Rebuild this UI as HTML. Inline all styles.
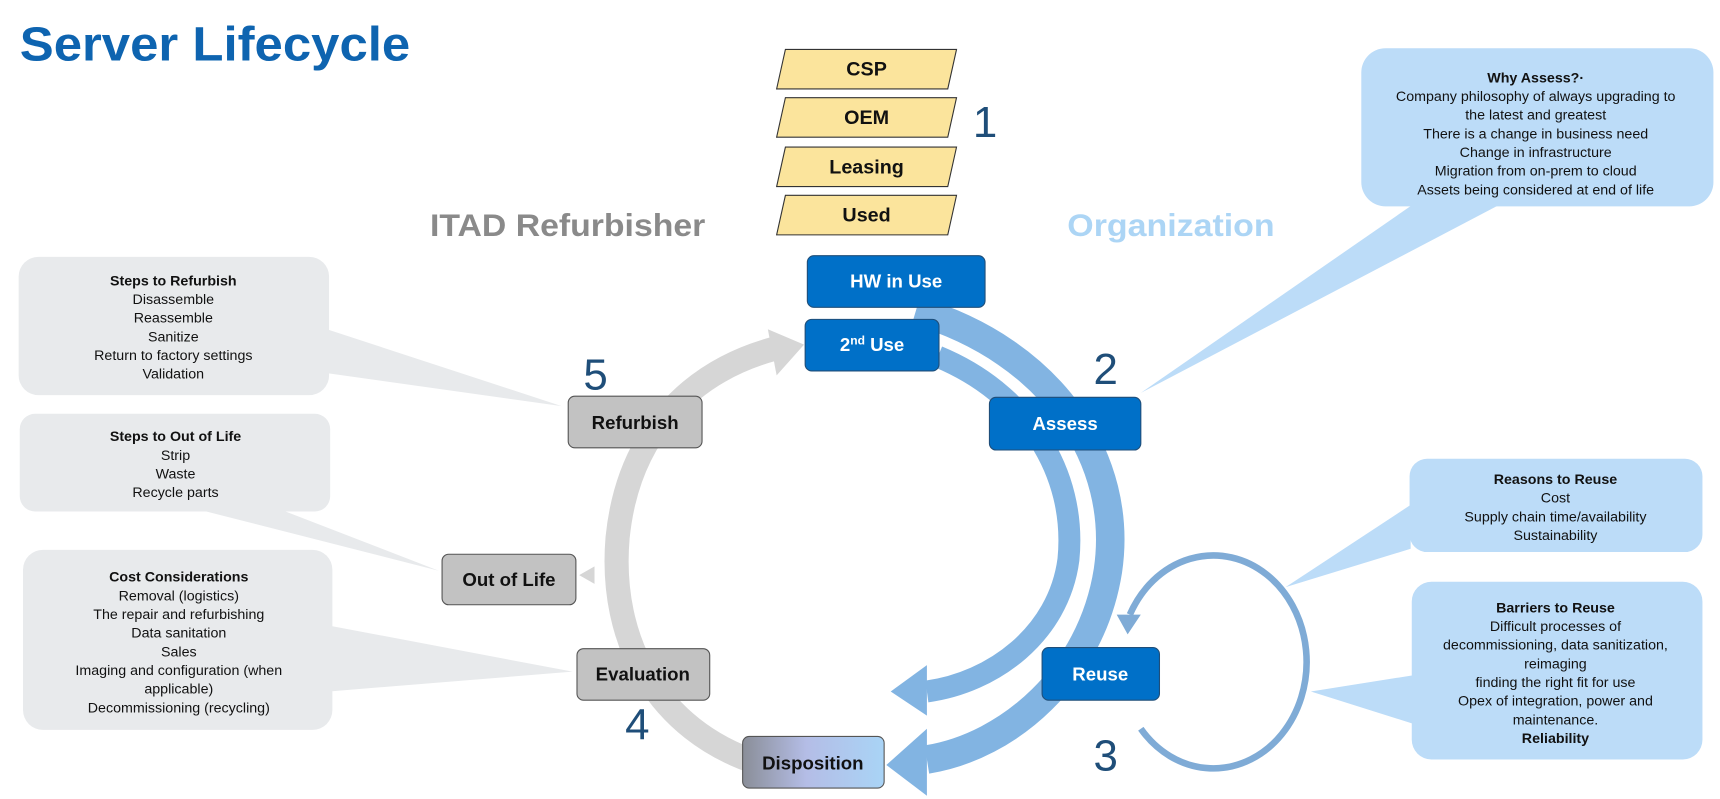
<!DOCTYPE html>
<html><head><meta charset="utf-8"><style>
html,body{margin:0;padding:0;background:#fff;}
svg{display:block;}
text{font-family:"Liberation Sans",sans-serif;}
</style></head><body>
<svg width="1720" height="799" viewBox="0 0 1568 728" preserveAspectRatio="none" xmlns="http://www.w3.org/2000/svg">
<defs>
<linearGradient id="dg" x1="0" x2="1" y1="0" y2="0"><stop offset="0" stop-color="#8a8e98"/><stop offset="0.45" stop-color="#b4bde6"/><stop offset="1" stop-color="#a9d4f6"/></linearGradient>
</defs>
<text x="18" y="55" font-size="44" font-weight="bold" fill="#0e64b0" textLength="356" lengthAdjust="spacingAndGlyphs">Server Lifecycle</text>

<g fill="#bcdcf8">
<rect x="1241" y="44" width="321" height="144" rx="22"/>
<polygon points="1290,185 1370,185 1040,358"/>
<rect x="1285" y="418" width="267" height="85" rx="16"/>
<polygon points="1286,460 1286,500 1172,535"/>
<rect x="1287" y="530" width="265" height="162" rx="18"/>
<polygon points="1290,615 1290,660 1195,630"/>
</g>
<g fill="#e8eaec">
<rect x="17" y="234" width="283" height="126" rx="18"/>
<polygon points="298,300 298,340 512,370"/>
<rect x="18" y="377" width="283" height="89" rx="14"/>
<polygon points="180,464 255,464 400,520"/>
<rect x="21" y="501" width="282" height="164" rx="18"/>
<polygon points="300,570 300,630 522,612"/>
</g>

<g font-size="13" text-anchor="middle" fill="#111">
<text x="1400" y="75" font-weight="bold">Why Assess?·</text>
<text x="1400" y="92">Company philosophy of always upgrading to</text>
<text x="1400" y="109">the latest and greatest</text>
<text x="1400" y="126">There is a change in business need</text>
<text x="1400" y="143">Change in infrastructure</text>
<text x="1400" y="160">Migration from on-prem to cloud</text>
<text x="1400" y="177">Assets being considered at end of life</text>

<text x="1418" y="441" font-weight="bold">Reasons to Reuse</text>
<text x="1418" y="458">Cost</text>
<text x="1418" y="475">Supply chain time/availability</text>
<text x="1418" y="492">Sustainability</text>

<text x="1418" y="558" font-weight="bold">Barriers to Reuse</text>
<text x="1418" y="575">Difficult processes of</text>
<text x="1418" y="592">decommissioning, data sanitization,</text>
<text x="1418" y="609">reimaging</text>
<text x="1418" y="626">finding the right fit for use</text>
<text x="1418" y="643">Opex of integration, power and</text>
<text x="1418" y="660">maintenance.</text>
<text x="1418" y="677" font-weight="bold">Reliability</text>

<text x="158" y="260" font-weight="bold">Steps to Refurbish</text>
<text x="158" y="277">Disassemble</text>
<text x="158" y="294">Reassemble</text>
<text x="158" y="311">Sanitize</text>
<text x="158" y="328">Return to factory settings</text>
<text x="158" y="345">Validation</text>

<text x="160" y="402" font-weight="bold">Steps to Out of Life</text>
<text x="160" y="419">Strip</text>
<text x="160" y="436">Waste</text>
<text x="160" y="453">Recycle parts</text>

<text x="163" y="530" font-weight="bold">Cost Considerations</text>
<text x="163" y="547">Removal (logistics)</text>
<text x="163" y="564">The repair and refurbishing</text>
<text x="163" y="581">Data sanitation</text>
<text x="163" y="598">Sales</text>
<text x="163" y="615">Imaging and configuration (when</text>
<text x="163" y="632">applicable)</text>
<text x="163" y="649">Decommissioning (recycling)</text>
</g>

<g fill="#fbe49c" stroke="#333" stroke-width="1">
<polygon points="716,45 872,45 864,81 708,81"/>
<polygon points="716,89 872,89 864,125 708,125"/>
<polygon points="716,134 872,134 864,170 708,170"/>
<polygon points="716,178 872,178 864,214 708,214"/>
</g>
<g font-size="18" font-weight="bold" text-anchor="middle" fill="#111">
<text x="790" y="69">CSP</text>
<text x="790" y="113">OEM</text>
<text x="790" y="158">Leasing</text>
<text x="790" y="202">Used</text>
</g>

<g font-size="29" font-weight="bold">
<text x="392" y="215" fill="#8a8a8a" textLength="251" lengthAdjust="spacingAndGlyphs">ITAD Refurbisher</text>
<text x="973" y="215" fill="#acd5f5" textLength="189" lengthAdjust="spacingAndGlyphs">Organization</text>
</g>

<path d="M690 695 C600 665,555 585,563 490 C572 400,625 340,705 318" fill="none" stroke="#d6d6d6" stroke-width="22"/>
<polygon points="700,300 733,314 708,342" fill="#d6d6d6"/>
<polygon points="528,524 542,516 542,532" fill="#d6d6d6"/>

<g fill="none" stroke="#82b4e2">
<path d="M835 283 C960 320,1025 420,1010 520 C995 615,920 680,845 692" stroke-width="26"/>
<path d="M855 325 C935 358,982 430,974 510 C965 578,905 622,845 630" stroke-width="20"/>
</g>
<g fill="#82b4e2">
<polygon points="845,664 808,697 845,725"/>
<polygon points="845,606 812,630 845,652"/>
</g>

<path d="M1040 664 A85 97 0 1 0 1030 560" fill="none" stroke="#7fabd6" stroke-width="6"/>
<polygon points="1018,560 1040,560 1028,578" fill="#7fabd6"/>

<g stroke="#1f4e79" stroke-width="1" fill="#0070c8">
<rect x="736" y="233" width="162" height="47" rx="6"/>
<rect x="734" y="291" width="122" height="47" rx="6"/>
<rect x="902" y="362" width="138" height="48" rx="6"/>
<rect x="950" y="590" width="107" height="48" rx="6"/>
</g>
<g stroke="#555" stroke-width="1" fill="#c2c2c2">
<rect x="518" y="361" width="122" height="47" rx="6"/>
<rect x="403" y="505" width="122" height="46" rx="6"/>
<rect x="526" y="591" width="121" height="47" rx="6"/>
</g>
<rect x="677" y="671" width="129" height="47" rx="6" fill="url(#dg)" stroke="#555"/>
<g font-size="17" font-weight="bold" text-anchor="middle">
<text x="817" y="262" fill="#fff">HW in Use</text>
<text x="795" y="320" fill="#fff">2<tspan font-size="11" dy="-6">nd</tspan><tspan dy="6"> Use</tspan></text>
<text x="971" y="392" fill="#fff">Assess</text>
<text x="1003" y="620" fill="#fff">Reuse</text>
<text x="579" y="391" fill="#111">Refurbish</text>
<text x="464" y="534" fill="#111">Out of Life</text>
<text x="586" y="620" fill="#111">Evaluation</text>
<text x="741" y="701" fill="#111">Disposition</text>
</g>

<g font-size="40" fill="#1f4e79" text-anchor="middle">
<text x="898" y="125">1</text>
<text x="1008" y="350">2</text>
<text x="1008" y="702">3</text>
<text x="581" y="674">4</text>
<text x="543" y="355">5</text>
</g>
</svg>
</body></html>
